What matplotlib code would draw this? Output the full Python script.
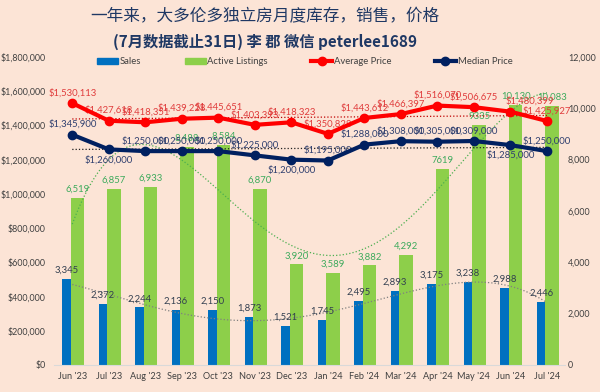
import numpy as np
import matplotlib.pyplot as plt
from matplotlib.lines import Line2D
from matplotlib.patches import Patch

# data
months = ["Jun '23", "Jul '23", "Aug '23", "Sep '23", "Oct '23", "Nov '23", "Dec '23",
          "Jan '24", "Feb '24", "Mar '24", "Apr '24", "May '24", "Jun '24", "Jul '24"]
sales = [3345, 2372, 2244, 2136, 2150, 1873, 1521, 1745, 2495, 2893, 3175, 3238, 2988, 2446]
listings = [6519, 6857, 6933, 8488, 8584, 6870, 3920, 3589, 3882, 4292, 7619, 9335, 10130, 10083]
listing_text = ["6,519", "6,857", "6,933", "8,488", "8,584", "6,870", "3,920",
                "3,589", "3,882", "4,292", "7619", "9335", "10,130", "10,083"]
avg_price = [1530113, 1427618, 1418351, 1439228, 1445651, 1403393, 1418323,
             1350828, 1443612, 1466397, 1516070, 1506675, 1480399, 1425927]
median_price = [1345900, 1260000, 1250000, 1250000, 1250000, 1225000, 1200000,
                1195000, 1288000, 1308000, 1305000, 1309000, 1285000, 1250000]

plt.rcParams['font.family'] = ['Lato', 'DejaVu Sans']

bg = '#FCE4D6'
c_sales = '#0070C0'
c_list = '#8DCF4A'
c_avg = '#FF0000'
c_med = '#002060'

fig = plt.figure(figsize=(6, 3.92), dpi=100, facecolor=bg)
ax = fig.add_axes([0.09, 0.0689, 0.852, 0.7857])
ax2 = ax.twinx()
ax.set_zorder(2)
ax2.set_zorder(1)
ax.patch.set_visible(False)
ax2.patch.set_visible(False)

x = np.arange(len(months))
xs = np.linspace(0, len(months) - 1, 300)

# bars on the right axis
ax2.bar(x - 0.16, sales, width=0.24, color=c_sales, zorder=2)
ax2.bar(x + 0.145, listings, width=0.37, color=c_list, zorder=2)
ax2.plot(xs, np.polyval(np.polyfit(x, sales, 4), xs), ls=':', color='#808080', lw=0.9, zorder=3)
ax2.plot(xs, np.polyval(np.polyfit(x, listings, 4), xs), ls=':', color='#4CAF50', lw=0.9, zorder=3)
ax2.set_ylim(0, 12000)
ax2.set_yticks(range(0, 12001, 2000))
ax2.set_yticklabels([f'{v:,}' for v in range(0, 12001, 2000)])

for i in x:
    ax2.annotate(f'{sales[i]:,}', (i - 0.16, sales[i]), xytext=(0, 3), textcoords='offset points',
                 ha='center', va='bottom', fontsize=6.8, color='#333F50')
    ax2.annotate(listing_text[i], (i + 0.145, listings[i]), xytext=(0, 3), textcoords='offset points',
                 ha='center', va='bottom', fontsize=6.8, color='#3DAA5C')

# price lines on the left axis
ax.plot(x, avg_price, color=c_avg, lw=3, marker='o', ms=6, zorder=4)
ax.plot(x, median_price, color=c_med, lw=3, marker='o', ms=6, zorder=4)
ax.plot(xs, np.polyval(np.polyfit(x, avg_price, 1), xs), ls=':', color='#C00000', lw=0.9, zorder=3)
ax.plot(xs, np.polyval(np.polyfit(x, median_price, 1), xs), ls=':', color='#202020', lw=0.9, zorder=3)

avg_nudge = {12: 14}
for i in x:
    ax.annotate(f'${avg_price[i]:,}', (i, avg_price[i]), xytext=(avg_nudge.get(i, 0), 4),
                textcoords='offset points', ha='center', va='bottom', fontsize=6.8, color='#E03C3C')
below = {1, 6, 12}
for i in x:
    dy = -4 if i in below else 4
    ax.annotate(f'${median_price[i]:,}', (i, median_price[i]), xytext=(0, dy),
                textcoords='offset points', ha='center', va='top' if i in below else 'bottom',
                fontsize=6.8, color='#2F3F6F')

ax.set_xlim(-0.5, len(months) - 0.5)
ax.set_ylim(0, 1800000)
ax.set_yticks(range(0, 1800001, 200000))
ax.set_yticklabels([f'${v:,}' for v in range(0, 1800001, 200000)])
ax.set_xticks(x)
ax.set_xticklabels(months)

for a in (ax, ax2):
    for s in a.spines.values():
        s.set_visible(False)
    a.tick_params(length=0, labelsize=6.4, colors='#404040')
ax.tick_params(axis='y', pad=6)
ax.tick_params(axis='x', pad=5, labelsize=6.6)
ax2.tick_params(axis='y', pad=2)
ax.spines['bottom'].set_visible(True)
ax.spines['bottom'].set_color('#D9D9D9')

handles = [Patch(color=c_sales), Patch(color=c_list),
           Line2D([], [], color=c_avg, lw=3, marker='o', ms=6),
           Line2D([], [], color=c_med, lw=3, marker='o', ms=6)]
fig.legend(handles, ['Sales', 'Active Listings', 'Average Price', 'Median Price'],
           loc='center', bbox_to_anchor=(0.508, 0.842), ncol=4, frameon=False,
           fontsize=6.8, handlelength=2.2, handleheight=0.7, handletextpad=0.2,
           columnspacing=4.6, labelcolor='#404040')

fig.text(0.442, 0.957, '一年来，大多伦多独立房月度库存，销售，价格', ha='center', va='center',
         fontsize=12, color='#1F3864', family=['Noto Sans CJK SC', 'DejaVu Sans'])
fig.text(0.442, 0.893, '(7月数据截止31日) 李 郡 微信 peterlee1689', ha='center', va='center',
         fontsize=11, fontweight='bold', color='#1F3864', family=['Noto Sans CJK SC', 'DejaVu Sans'])

fig.savefig('out.png', dpi=100, facecolor=bg)
